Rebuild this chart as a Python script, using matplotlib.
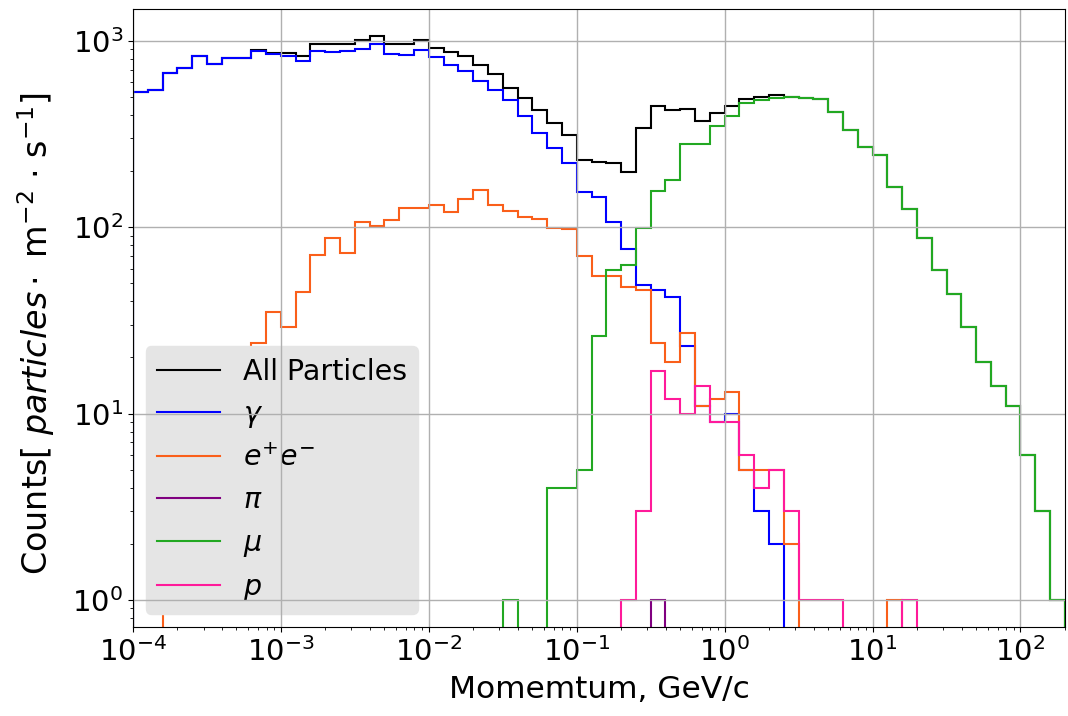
import matplotlib
matplotlib.use('Agg')
import matplotlib.pyplot as plt
import numpy as np

plt.rcParams['font.size'] = 20

# log bins, 10 per decade from 1e-4 to 10^2.3
log_edges = np.linspace(-4, 2.3, 64)

all_particles = [528, 542, 671, 714, 824, 750, 805, 812, 896, 859,
                 859, 824, 962, 962, 962, 1014, 1064, 966, 966, 1005,
                 917, 867, 824, 743, 666, 560, 492, 427, 362, 313,
                 230, 225, 221, 197, 340, 445, 427, 433, 370, 410,
                 448, 487, 499, 509, 502, 496, 487, 413, 333, 269,
                 245, 164, 125, 88, 59, 44, 29, 19, 14, 11,
                 6, 3, 1]
gamma = [528, 542, 671, 714, 824, 750, 805, 812, 877, 853,
         832, 782, 885, 867, 885, 904, 962, 853, 836, 891,
         819, 743, 692, 611, 542, 483, 393, 320, 266, 221,
         155, 146, 107, 76, 49, 46, 42, 23, 11, 9,
         10, 5, 3, 2, 0, 0, 0, 0, 0, 0,
         0, 0, 0, 0, 0, 0, 0, 0, 0, 0,
         0, 0, 0]
electrons = [0, 0, 1, 7, 6, 13, 15, 17, 24, 35,
             29, 45, 71, 87, 73, 106, 102, 109, 126, 126,
             132, 121, 142, 159, 132, 122, 113, 111, 99, 98,
             70, 55, 55, 48, 46, 24, 19, 27, 11, 12,
             13, 5, 5, 5, 2, 0, 0, 0, 0, 0,
             0, 1, 0, 0, 0, 0, 0, 0, 0, 0,
             0, 0, 0]
pions = [0] * 35 + [1] + [0] * 27
muons = [0, 0, 0, 0, 0, 0, 0, 0, 0, 0,
         0, 0, 0, 0, 0, 0, 0, 0, 0, 0,
         0, 0, 0, 0, 0, 1, 0, 0, 4, 4,
         5, 26, 59, 63, 99, 157, 178, 280, 280, 347,
         393, 463, 483, 493, 502, 496, 487, 413, 333, 269,
         245, 164, 125, 88, 59, 44, 29, 19, 14, 11,
         6, 3, 1]
protons = [0, 0, 0, 0, 0, 0, 0, 0, 0, 0,
           0, 0, 0, 0, 0, 0, 0, 0, 0, 0,
           0, 0, 0, 0, 0, 0, 0, 0, 0, 0,
           0, 0, 0, 1, 3, 17, 12, 10, 14, 9,
           9, 6, 4, 5, 3, 1, 1, 1, 0, 0,
           0, 0, 1, 0, 0, 0, 0, 0, 0, 0,
           0, 0, 0]

series = [
    (all_particles, 'All Particles', 'black'),
    (gamma, r'$\gamma$', 'blue'),
    (electrons, r'$e^{+}e^{-}$', '#fa5f1a'),
    (pions, r'$\pi$', 'purple'),
    (muons, r'$\mu$', '#22a822'),
    (protons, r'$p$', '#ff1a9a'),
]

edges = 10 ** log_edges

fig = plt.figure(figsize=(10.68, 7.16), dpi=100)
ax = fig.add_axes([0.1245, 0.1243, 0.8727, 0.8631])
ax.set_xscale('log')
ax.set_yscale('log')

for values, label, color in series:
    ax.stairs(values, edges, color=color, linewidth=1.5, label=label)

ax.set_xlim(1e-4, 2e2)
ax.set_ylim(0.716, 1480)
ax.grid(True, which='major', color='#b0b0b0', linewidth=1.0)
ax.tick_params(labelsize=21)
ax.set_xlabel('Momemtum, GeV/c', fontsize=22.5, labelpad=6)
ax.set_ylabel(r'Counts[ $particles \cdot$ m$^{-2}$ $\cdot$ s$^{-1}$]', fontsize=24)
ax.yaxis.set_label_coords(-0.081, 0.475)

leg = ax.legend(loc='lower left', fontsize=20.5, facecolor='#e5e5e5',
                edgecolor='#e5e5e5', framealpha=1.0, handlelength=2.2,
                borderaxespad=0.45)
leg.set_zorder(1)

fig.savefig('out.png', dpi=100)
